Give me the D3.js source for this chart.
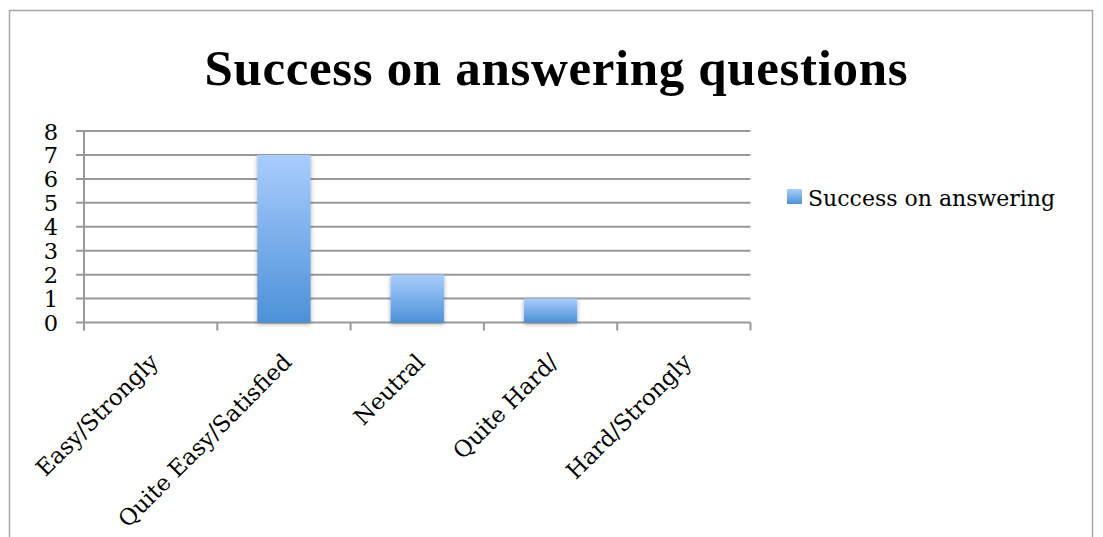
<!DOCTYPE html>
<html>
<head>
<meta charset="utf-8">
<script src="https://cdn.jsdelivr.net/npm/d3@7"></script>
<style>
  html, body { margin: 0; padding: 0; background: #fff; }
  svg { display: block; }
</style>
</head>
<body>
<svg id="chart" width="1103" height="537"></svg>
<script>
// Survey responses: how easy it was to answer the questions
const categories = ["Easy/Strongly", "Quite Easy/Satisfied", "Neutral", "Quite Hard/", "Hard/Strongly"];
const values = [0, 7, 2, 1, 0];
const yTicks = [0, 1, 2, 3, 4, 5, 6, 7, 8];
const seriesName = "Success on answering";
const chartTitle = "Success on answering questions";

const svg = d3.select("#chart");
const titleFont = "'Liberation Serif', serif";
const labelFont = "'DejaVu Serif', serif";

const plot = { left: 84, right: 750.5, top: 131, bottom: 322.5 };

const defs = svg.append("defs");
const grad = defs.append("linearGradient")
  .attr("id", "barFill").attr("x1", 0).attr("y1", 0).attr("x2", 0).attr("y2", 1);
grad.append("stop").attr("offset", "0%").attr("stop-color", "#a9cdfd");
grad.append("stop").attr("offset", "100%").attr("stop-color", "#4c91d8");

const shadow = defs.append("filter").attr("id", "barShadow")
  .attr("x", "-30%").attr("y", "-10%").attr("width", "160%").attr("height", "130%");
shadow.append("feDropShadow").attr("dx", 0).attr("dy", 1.5)
  .attr("stdDeviation", 2.2).attr("flood-color", "#000").attr("flood-opacity", 0.35);

// Outer chart frame
svg.append("rect")
  .attr("x", 9.5).attr("y", 10.5).attr("width", 1083).attr("height", 540)
  .attr("fill", "none").attr("stroke", "#a6a6a6").attr("stroke-width", 1.5);

// Title
svg.append("text")
  .attr("x", 556).attr("y", 85)
  .attr("text-anchor", "middle")
  .attr("font-family", titleFont).attr("font-weight", "bold").attr("font-size", 51)
  .attr("textLength", 703).attr("lengthAdjust", "spacing")
  .attr("fill", "#000")
  .text(chartTitle);

const x = d3.scaleBand().domain(categories).range([plot.left, plot.right])
  .paddingInner(0.6).paddingOuter(0.3);
const xBand = d3.scaleBand().domain(categories).range([plot.left, plot.right]);
const y = d3.scaleLinear().domain([0, 8]).range([plot.bottom, plot.top]);

// Horizontal gridlines
svg.append("g").selectAll("line").data(yTicks).join("line")
  .attr("x1", plot.left - 8).attr("x2", plot.right)
  .attr("y1", d => y(d)).attr("y2", d => y(d))
  .attr("stroke", "#999").attr("stroke-width", 2);

// Y axis line
svg.append("line")
  .attr("x1", plot.left).attr("x2", plot.left)
  .attr("y1", plot.top).attr("y2", plot.bottom + 8)
  .attr("stroke", "#999").attr("stroke-width", 2);

// Y labels
svg.append("g").selectAll("text").data(yTicks).join("text")
  .attr("x", 58).attr("y", d => y(d) + 8.5)
  .attr("text-anchor", "end")
  .attr("font-family", labelFont).attr("font-size", 22.5).attr("fill", "#000")
  .text(d => d);

// X tick marks at category boundaries
const bounds = categories.map(c => xBand(c)).concat([plot.right]);
svg.append("g").selectAll("line").data(bounds).join("line")
  .attr("x1", d => d).attr("x2", d => d)
  .attr("y1", plot.bottom).attr("y2", plot.bottom + 8)
  .attr("stroke", "#999").attr("stroke-width", 2);

// Bars
svg.append("g").selectAll("rect").data(categories.map((c, i) => ({ c, v: values[i] })).filter(d => d.v > 0))
  .join("rect")
  .attr("x", d => x(d.c)).attr("width", x.bandwidth())
  .attr("y", d => y(d.v)).attr("height", d => y(0) - y(d.v))
  .attr("fill", "url(#barFill)")
  .attr("filter", "url(#barShadow)");

// Rotated category labels
svg.append("g").selectAll("text").data(categories).join("text")
  .attr("transform", d => `translate(${xBand(d) + xBand.bandwidth() / 2 + 9},${plot.bottom + 41}) rotate(-45)`)
  .attr("text-anchor", "end")
  .attr("font-family", labelFont).attr("font-size", 22.8).attr("fill", "#000")
  .text(d => d);

// Legend
svg.append("rect")
  .attr("x", 787).attr("y", 189).attr("width", 15).attr("height", 15)
  .attr("fill", "url(#barFill)");
svg.append("text")
  .attr("x", 808).attr("y", 206)
  .attr("font-family", labelFont).attr("font-size", 22).attr("fill", "#000")
  .text(seriesName);
</script>
</body>
</html>
